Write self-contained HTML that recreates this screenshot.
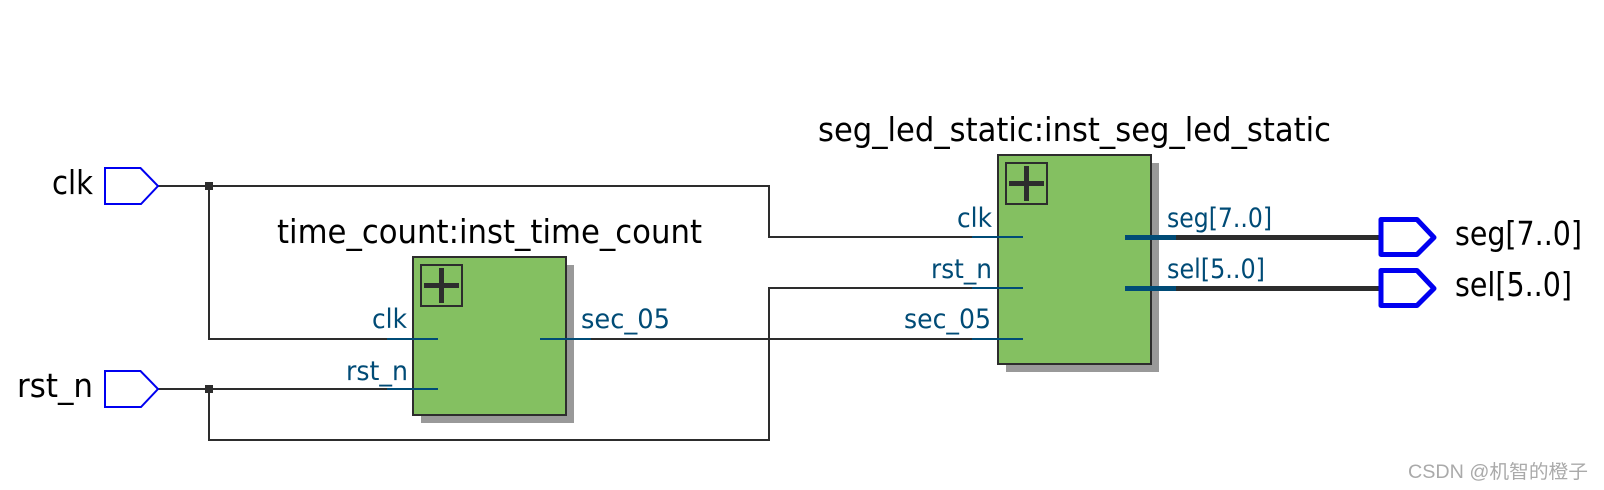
<!DOCTYPE html>
<html><head><meta charset="utf-8"><style>
html,body{margin:0;padding:0;background:#fff;width:1604px;height:490px;overflow:hidden}
svg{display:block}
text{font-family:"DejaVu Sans","Noto Sans CJK SC",sans-serif}
.t{font-size:33px;fill:#000}
.b{font-size:27px;fill:#004b76}
</style></head><body>
<svg width="1604" height="490" viewBox="0 0 1604 490">
<rect x="421" y="265" width="153" height="158" fill="#999"/>
<rect x="1006" y="163" width="153" height="209" fill="#999"/>
<rect x="413" y="257" width="153" height="158" fill="#84c061" stroke="#2d2d2d" stroke-width="2"/>
<rect x="998" y="155" width="153" height="209" fill="#84c061" stroke="#2d2d2d" stroke-width="2"/>
<g fill="none" stroke="#2d2d2d" stroke-width="2">
<rect x="421" y="265" width="41" height="41"/>
<rect x="1006" y="163" width="41" height="41"/>
<path d="M158 186H769V237H972M209 186V339H387M158 389H387M209 389V440H769V288H972M591 339H972"/>
</g>
<g fill="none" stroke="#2d2d2d" stroke-width="5">
<path d="M424 285.500H459M441.500 268V303M1009 183.500H1044M1026.500 166V201"/>
<path d="M1175 237.500H1380M1175 288.500H1380"/>
</g>
<rect x="205" y="182" width="8" height="8" fill="#2d2d2d"/>
<rect x="205" y="385" width="8" height="8" fill="#2d2d2d"/>
<g fill="none" stroke="#004b76" stroke-width="2">
<path d="M387 339H438M387 389H438M540 339H591M972 237H1023M972 288H1023M972 339H1023"/>
</g>
<g fill="none" stroke="#004b76" stroke-width="5">
<path d="M1125 237.500H1176M1125 288.500H1176"/>
</g>
<g fill="#fff" stroke="#0000f0" stroke-width="2">
<path d="M105 168H140.500L158 186L141 204H105Z"/>
<path d="M105 371H140.500L158 389L141 407H105Z"/>
</g>
<g fill="#fff" stroke="#0000f0" stroke-width="5" stroke-linejoin="round">
<path d="M1381 219.500H1417L1434 237.500L1417 254.500H1381Z"/>
<path d="M1381 270.500H1417L1434 288.500L1417 305.500H1381Z"/>
</g>
<g class="labels">
<text class="t" x="277" y="243" textLength="425" lengthAdjust="spacingAndGlyphs">time_count:inst_time_count</text>
<text class="t" x="818" y="141" textLength="513" lengthAdjust="spacingAndGlyphs">seg_led_static:inst_seg_led_static</text>
<text class="t" x="52" y="194" textLength="41" lengthAdjust="spacingAndGlyphs">clk</text>
<text class="t" x="17" y="397" textLength="76" lengthAdjust="spacingAndGlyphs">rst_n</text>
<text class="t" x="1455" y="245" textLength="127" lengthAdjust="spacingAndGlyphs">seg[7..0]</text>
<text class="t" x="1455" y="296" textLength="117" lengthAdjust="spacingAndGlyphs">sel[5..0]</text>
<text class="b" x="372" y="328" textLength="35" lengthAdjust="spacingAndGlyphs">clk</text>
<text class="b" x="346" y="380" textLength="62" lengthAdjust="spacingAndGlyphs">rst_n</text>
<text class="b" x="581" y="328" textLength="89" lengthAdjust="spacingAndGlyphs">sec_05</text>
<text class="b" x="957" y="227" textLength="35" lengthAdjust="spacingAndGlyphs">clk</text>
<text class="b" x="931" y="278" textLength="61" lengthAdjust="spacingAndGlyphs">rst_n</text>
<text class="b" x="904" y="328" textLength="87" lengthAdjust="spacingAndGlyphs">sec_05</text>
<text class="b" x="1167" y="227" textLength="105" lengthAdjust="spacingAndGlyphs">seg[7..0]</text>
<text class="b" x="1167" y="278" textLength="98" lengthAdjust="spacingAndGlyphs">sel[5..0]</text>
<text x="1408" y="478" font-size="19" fill="#aaa" textLength="180" lengthAdjust="spacingAndGlyphs" style="font-family:'Liberation Sans','Noto Sans CJK SC',sans-serif">CSDN @机智的橙子</text>
</g>
</svg>
</body></html>
